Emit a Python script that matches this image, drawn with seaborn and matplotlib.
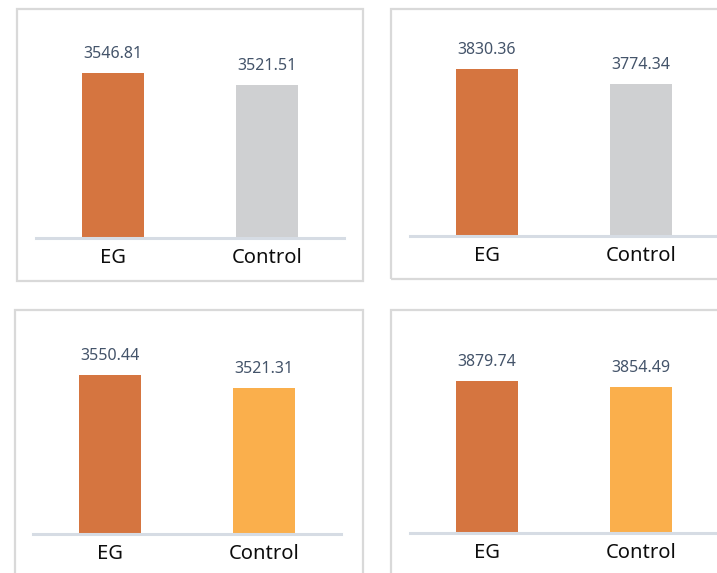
import matplotlib
matplotlib.use("Agg")
import matplotlib.pyplot as plt
from matplotlib.patches import Rectangle
import seaborn as sns

# data
categories = ["EG", "Control"]
values_tl = [3546.81, 3521.51]
values_tr = [3830.36, 3774.34]
values_bl = [3550.44, 3521.31]
values_br = [3879.74, 3854.49]

colors_top = ["#D57540", "#CFD0D2"]
colors_bottom = ["#D57540", "#FAAF4C"]

# value axis range for each panel (baseline at 3200)
y_bottom = 3200
y_tops = [3679, 4053, 3694, 4197]

sns.set_theme(style="white")
plt.rcParams["font.family"] = ["Noto Sans", "DejaVu Sans"]

W, H = 717, 573
fig = plt.figure(figsize=(W / 100, H / 100), dpi=100)


def px_rect(left, top, width, height):
    return [left / W, 1 - (top + height) / H, width / W, height / H]


# panel frames (left, top, width, height in pixels)
frames = [(17, 9, 346, 272), (391, 9, 340, 270), (15, 310, 348, 280), (391, 310, 340, 280)]
for fx, fy, fw, fh in frames:
    fig.add_artist(Rectangle((fx / W, 1 - (fy + fh) / H), fw / W, fh / H,
                             transform=fig.transFigure, fill=False,
                             edgecolor="#D9D9D9", linewidth=1.6, zorder=0))

# axes placement (left, top, width, height in pixels)
axes_px = [(36, 10, 308, 228), (410, 10, 308, 226), (33, 310, 308, 224), (410, 310, 308, 223)]
panel_values = [values_tl, values_tr, values_bl, values_br]
panel_colors = [colors_top, colors_top, colors_bottom, colors_bottom]

for pos, vals, cols, ytop in zip(axes_px, panel_values, panel_colors, y_tops):
    ax = fig.add_axes(px_rect(*pos))
    ax.set_facecolor("none")
    sns.barplot(x=categories, y=vals, hue=categories, palette=cols,
                width=0.4, saturation=1, linewidth=0, legend=False, ax=ax)
    ax.set_xlim(-0.5, 1.5)
    ax.set_ylim(y_bottom, ytop)
    for s in ["top", "left", "right"]:
        ax.spines[s].set_visible(False)
    ax.spines["bottom"].set_color("#D6DCE4")
    ax.spines["bottom"].set_linewidth(2.2)
    ax.set_yticks([])
    ax.tick_params(axis="x", length=0, pad=7, labelsize=14.5, labelcolor="#0D0D0D")
    ax.set_xlabel("")
    ax.set_ylabel("")
    for i, v in enumerate(vals):
        ax.annotate(f"{v:.2f}", xy=(i, v), xytext=(0, 15), textcoords="offset pixels",
                    ha="center", va="baseline", fontsize=11.5, color="#44546A")

fig.savefig("out.png", dpi=100)
